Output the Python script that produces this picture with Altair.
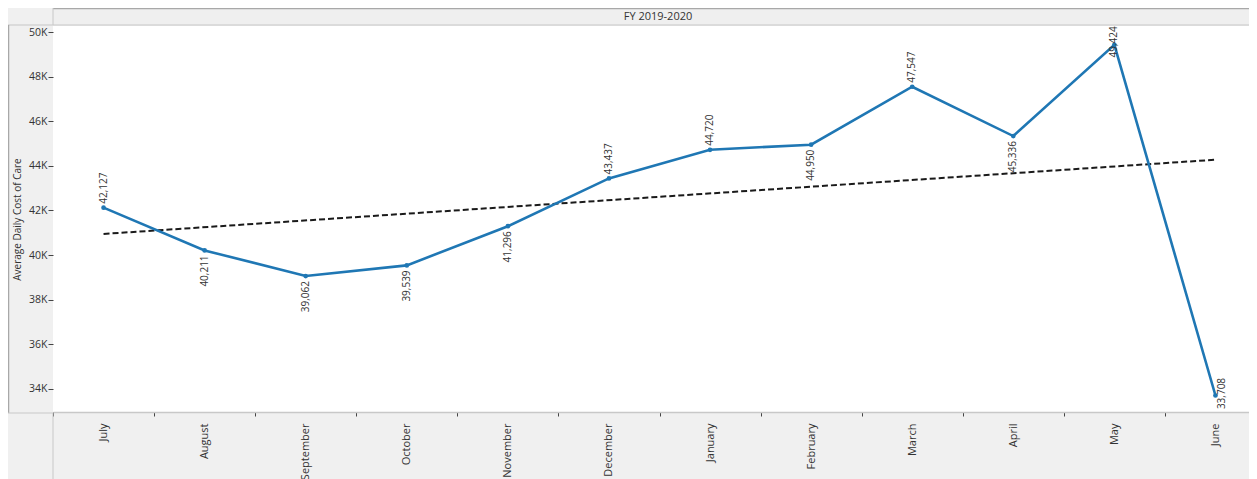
import json
import altair as alt
import pandas as pd

months = ["July", "August", "September", "October", "November", "December",
          "January", "February", "March", "April", "May", "June"]
costs = [42127, 40211, 39062, 39539, 41296, 43437, 44720, 44950, 47547, 45336, 49424, 33708]
y_ticks = [34000, 36000, 38000, 40000, 42000, 44000, 46000, 48000, 50000]

labels_above = ["July", "December", "January", "March"]
labels_below = ["August", "September", "October", "November", "February", "April"]

df = pd.DataFrame({"Month": months, "Cost": costs, "idx": list(range(len(months)))})

FONT = "Open Sans"
BLUE = "#1f77b4"
W, H = 1196, 386

x_enc = alt.X("Month:N", sort=months, title=None,
              scale=alt.Scale(range=[0, 1213], paddingInner=0, paddingOuter=0),
              axis=alt.Axis(labelAngle=270, labelAlign="right", labelBaseline="middle",
                            labelPadding=7, labelFont=FONT, labelFontSize=11, labelColor="#333",
                            tickBand="extent", tickSize=4, tickColor="#444", tickWidth=1,
                            domainColor="#c8c8c8", domainWidth=1.5, grid=False))
y_enc = alt.Y("Cost:Q", title="Average Daily Cost of Care",
              scale=alt.Scale(domain=[32969, 50269], nice=False, zero=False),
              axis=alt.Axis(values=y_ticks, labelExpr="(datum.value/1000) + 'K'",
                            labelFont=FONT, labelFontSize=10.5, labelColor="#333",
                            tickSize=5, tickColor="#444", labelPadding=1, domain=False, grid=False,
                            titleFont=FONT, titleFontSize=10, titleFontWeight="normal",
                            titleColor="#333", titleX=-36, titleY=H / 2, titleAngle=270,
                            titleAlign="center", titleBaseline="middle"))

base = alt.Chart(df)

one = pd.DataFrame({"a": [0]})
deco = alt.Chart(one)
header_bg = deco.mark_rect(color="#efefef").encode(
    x=alt.value(0), x2=alt.value(W), y=alt.value(-18), y2=alt.value(-1))
header_top = deco.mark_rule(color="#a8a8a8", strokeWidth=1.5).encode(
    x=alt.value(0), x2=alt.value(W), y=alt.value(-17.5))
header_bottom = deco.mark_rule(color="#d4d4d4", strokeWidth=1.5).encode(
    x=alt.value(-45), x2=alt.value(W), y=alt.value(-1))
header_left = deco.mark_rule(color="#c8c8c8", strokeWidth=1).encode(
    x=alt.value(0), y=alt.value(-18), y2=alt.value(-1))
left_border = deco.mark_rule(color="#a8a8a8", strokeWidth=1.5).encode(
    x=alt.value(-44.5), y=alt.value(-1), y2=alt.value(387))
corner_h = deco.mark_rule(color="#c8c8c8", strokeWidth=1).encode(
    x=alt.value(-45), x2=alt.value(0), y=alt.value(387))
corner_v = deco.mark_rule(color="#c8c8c8", strokeWidth=1).encode(
    x=alt.value(0), y=alt.value(387), y2=alt.value(460))
header_text = deco.mark_text(font=FONT, fontSize=11, color="#333", baseline="middle").encode(
    x=alt.value(605), y=alt.value(-9), text=alt.value("FY 2019-2020"))

trend_expr = f"{json.dumps(months)}[round(datum.idx)]"
trend = base.transform_regression("idx", "Cost").transform_calculate(
    Month=trend_expr).mark_line(color="#1a1a1a", strokeDash=[6, 3], strokeWidth=2).encode(
    x=x_enc, y=y_enc)

line = base.mark_line(color=BLUE, strokeWidth=2.6).encode(x=x_enc, y=y_enc)
pts = base.mark_circle(color=BLUE, size=22, opacity=1).encode(x=x_enc, y=y_enc)

txt_common = dict(font=FONT, fontSize=10, color="#333", angle=270, baseline="middle")
lab_above = base.transform_filter(alt.FieldOneOfPredicate(field="Month", oneOf=labels_above)).mark_text(
    align="left", dx=4, **txt_common).encode(x=x_enc, y=y_enc, text=alt.Text("Cost:Q", format=","))
lab_below = base.transform_filter(alt.FieldOneOfPredicate(field="Month", oneOf=labels_below)).mark_text(
    align="right", dx=-5, **txt_common).encode(x=x_enc, y=y_enc, text=alt.Text("Cost:Q", format=","))
lab_may = base.transform_filter(alt.FieldEqualPredicate(field="Month", equal="May")).mark_text(
    align="center", dx=3, **txt_common).encode(x=x_enc, y=y_enc, text=alt.Text("Cost:Q", format=","))
lab_june = base.transform_filter(alt.FieldEqualPredicate(field="Month", equal="June")).mark_text(
    align="center", dx=2, dy=7, **txt_common).encode(x=x_enc, y=y_enc, text=alt.Text("Cost:Q", format=","))

chart = alt.layer(
    header_bg, header_top, header_bottom, header_left, left_border, corner_h, corner_v, header_text,
    trend, line, pts, lab_above, lab_below, lab_may, lab_june,
).properties(
    width=W, height=H,
    autosize=alt.AutoSizeParams(type="none"),
    padding={"left": 45, "top": 18, "right": 0, "bottom": 67},
    background="#f0f0f0",
).configure_view(fill="white", stroke=None)

chart.save("out.html", embed_options={"renderer": "svg", "actions": False})
